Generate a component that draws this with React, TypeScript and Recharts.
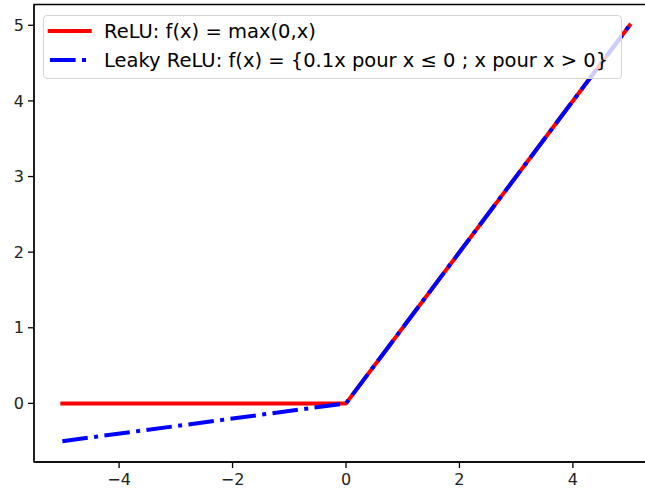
import React from "react";
import { LineChart, Line, XAxis, YAxis, ReferenceArea } from "recharts";

const xValues = [-5, 0, 5];
const reluValues = [0, 0, 5];
const leakyValues = [-0.5, 0, 5];
const xTicks = [-4, -2, 0, 2, 4];
const yTicks = [0, 1, 2, 3, 4, 5];
const seriesNames = [
  "ReLU: f(x) = max(0,x)",
  "Leaky ReLU: f(x) = {0.1x pour x \u2264 0 ; x pour x > 0}",
];
const xDomain = [-5.5, 5.5];
const yDomain = [-0.775, 5.275];

const data = xValues.map((x, i) => ({ x, relu: reluValues[i], leaky: leakyValues[i] }));

const FONT = "'DejaVu Sans', sans-serif";
const fmt = (v: number) => String(v).replace("-", "\u2212");
const DASH = "25.6 6.4 4 6.4";

export default function App() {
  return (
    <div style={{ position: "absolute", left: 0, top: 0, width: 645, height: 488, overflow: "hidden", background: "#fff" }}>
      <LineChart
        width={660}
        height={488}
        data={data}
        margin={{ top: 4.5, right: 2, bottom: 0, left: 0 }}
      >
        <XAxis
          dataKey="x"
          type="number"
          domain={xDomain}
          ticks={xTicks}
          allowDataOverflow
          height={26}
          tickSize={6}
          tickMargin={6}
          tickFormatter={fmt}
          axisLine={{ stroke: "#000", strokeWidth: 1.3 }}
          tickLine={{ stroke: "#000", strokeWidth: 1.3 }}
          tick={{ fill: "#222", fontSize: 16, fontFamily: FONT }}
        />
        <YAxis
          type="number"
          domain={yDomain}
          ticks={yTicks}
          allowDataOverflow
          width={34}
          tickSize={6}
          tickMargin={4}
          tickFormatter={fmt}
          axisLine={{ stroke: "#000", strokeWidth: 1.3 }}
          tickLine={{ stroke: "#000", strokeWidth: 1.3 }}
          tick={{ fill: "#222", fontSize: 16, fontFamily: FONT }}
        />
        <ReferenceArea
          x1={xDomain[0]}
          x2={xDomain[1]}
          y1={yDomain[0]}
          y2={yDomain[1]}
          fill="none"
          stroke="#000"
          strokeWidth={1.3}
          ifOverflow="visible"
        />
        <Line
          dataKey="relu"
          type="linear"
          stroke="#ff0000"
          strokeWidth={4}
          strokeLinecap="square"
          strokeLinejoin="round"
          dot={false}
          activeDot={false}
          isAnimationActive={false}
        />
        <Line
          dataKey="leaky"
          type="linear"
          stroke="#0000ff"
          strokeWidth={4}
          strokeDasharray={DASH}
          strokeLinecap="butt"
          strokeLinejoin="round"
          dot={false}
          activeDot={false}
          isAnimationActive={false}
        />
      </LineChart>
      <div
        style={{
          position: "absolute",
          left: 43,
          top: 15,
          width: 579,
          height: 64,
          boxSizing: "border-box",
          border: "1px solid #d4d4d4",
          borderRadius: 4,
          background: "rgba(255,255,255,0.8)",
          fontFamily: FONT,
          pointerEvents: "none",
        }}
      >
        <svg width={60} height={62} style={{ position: "absolute", left: 0, top: 0 }}>
          <line x1={5.7} y1={15} x2={45.7} y2={15} stroke="#ff0000" strokeWidth={4} strokeLinecap="square" />
          <line x1={6} y1={44} x2={45.7} y2={44} stroke="#0000ff" strokeWidth={4} strokeDasharray={DASH} strokeLinecap="butt" />
        </svg>
        <div style={{ position: "absolute", left: 60, top: 4.4, fontSize: 19.5, lineHeight: "24px", color: "#000", whiteSpace: "nowrap" }}>
          {seriesNames[0]}
        </div>
        <div style={{ position: "absolute", left: 60, top: 33.2, fontSize: 19.5, lineHeight: "24px", color: "#000", whiteSpace: "nowrap" }}>
          {seriesNames[1]}
        </div>
      </div>
    </div>
  );
}
